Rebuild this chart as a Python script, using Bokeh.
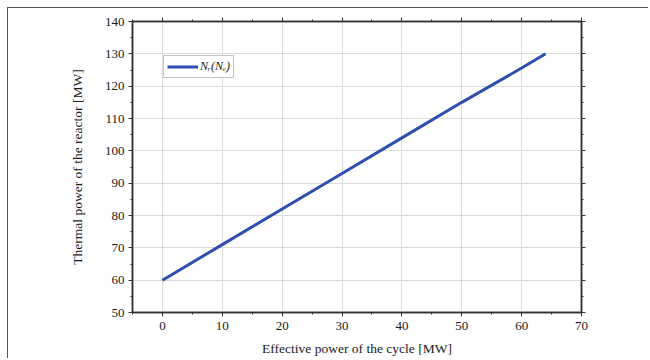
from bokeh.plotting import figure
from bokeh.models import LinearAxis, Legend, LegendItem, Range1d, FixedTicker, CustomJSTickFormatter
from bokeh.embed import file_html
from bokeh.resources import INLINE

# data
effective_power = [0, 10, 20, 30, 40, 50, 60, 64]
thermal_power = [60, 71, 82, 93, 104, 115, 125.6, 130]
x_ticks = [0, 10, 20, 30, 40, 50, 60, 70]
y_ticks = [50, 60, 70, 80, 90, 100, 110, 120, 130, 140]
x_minor = [-5, 5, 15, 25, 35, 45, 55, 65]
y_minor = [55, 65, 75, 85, 95, 105, 115, 125, 135]

FONT = "Liberation Serif"
AX = "#333333"
TXT = "#1a1a1a"

p = figure(width=641, height=351, output_backend="svg", toolbar_location=None,
           x_range=Range1d(-5, 70), y_range=Range1d(50, 140),
           min_border_left=124, min_border_right=68, min_border_top=13, min_border_bottom=47)
p.styles = {"margin-left": "7px", "margin-top": "7px",
            "border-left": "1px solid #555555", "border-top": "1px solid #555555"}
p.outline_line_color = AX
p.outline_line_width = 1.5


def style_axis(ax, labels=True):
    ax.axis_line_color = AX
    ax.axis_line_width = 1.5
    ax.major_tick_line_color = AX
    ax.minor_tick_line_color = AX
    ax.major_tick_in = 0
    ax.major_tick_out = 4
    ax.minor_tick_in = 0
    ax.minor_tick_out = 2
    ax.major_label_text_font = FONT
    ax.major_label_text_font_size = "13px"
    ax.major_label_text_color = TXT
    ax.axis_label_text_font = FONT
    ax.axis_label_text_font_size = "13.5px"
    ax.axis_label_text_font_style = "normal"
    ax.axis_label_text_color = TXT
    if not labels:
        ax.formatter = CustomJSTickFormatter(code="return ''")
        ax.major_label_standoff = 0


p.xaxis.ticker = FixedTicker(ticks=x_ticks, minor_ticks=x_minor)
p.yaxis.ticker = FixedTicker(ticks=y_ticks, minor_ticks=y_minor)
style_axis(p.xaxis[0])
style_axis(p.yaxis[0])
p.xaxis.axis_label = "Effective power of the cycle [MW]"
p.yaxis.axis_label = "Thermal power of the reactor [MW]"
p.xaxis.major_label_standoff = 5
p.xaxis.axis_label_standoff = 8
p.yaxis.major_label_standoff = 4
p.yaxis.axis_label_standoff = 17

top = LinearAxis(ticker=FixedTicker(ticks=x_ticks, minor_ticks=x_minor))
style_axis(top, labels=False)
p.add_layout(top, "above")
right = LinearAxis(ticker=FixedTicker(ticks=y_ticks, minor_ticks=y_minor))
style_axis(right, labels=False)
p.add_layout(right, "right")

p.xgrid.ticker = FixedTicker(ticks=x_ticks)
p.ygrid.ticker = FixedTicker(ticks=y_ticks)
p.grid.grid_line_color = "#dcdcdc"
p.grid.grid_line_width = 1

line = p.line(effective_power, thermal_power, line_color="#2f4fb0", line_width=3)

legend = Legend(items=[LegendItem(label="Nᵣ(Nₑ)", renderers=[line])],
                location=(31, 234), label_text_font=FONT, label_text_font_size="12px",
                label_text_font_style="italic", label_text_color=TXT,
                glyph_width=31, glyph_height=13,
                label_standoff=2, padding=3, spacing=0, margin=0,
                border_line_color="#888888", border_line_width=1,
                background_fill_alpha=1.0, label_height=13)
p.add_layout(legend, "center")

open("out.html", "w").write(file_html(p, INLINE))
